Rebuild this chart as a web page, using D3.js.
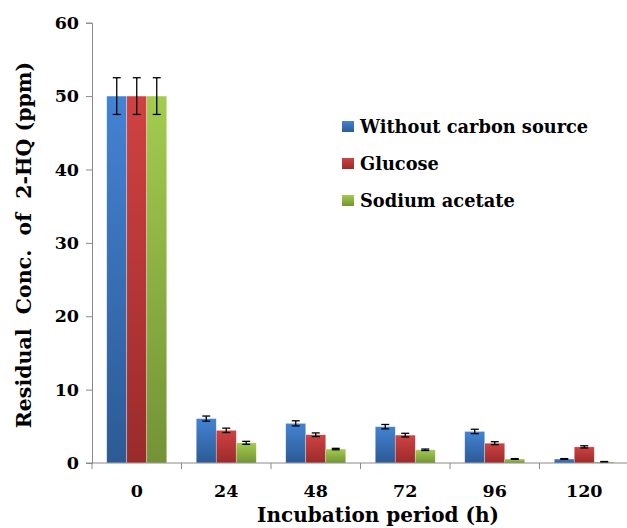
<!DOCTYPE html>
<html><head><meta charset="utf-8">
<script src="https://cdn.jsdelivr.net/npm/d3@7"></script>
<style>
body{margin:0;background:#fff;}
text{font-family:"DejaVu Serif",serif;font-weight:bold;fill:#000;}
</style></head>
<body><svg id="c" width="627" height="528"></svg>
<script>
const categories = ["0","24","48","72","96","120"];
const seriesNames = ["Without carbon source","Glucose","Sodium acetate"];
const withoutCarbon = [50.0, 6.05, 5.4, 4.95, 4.3, 0.55];
const glucose       = [50.0, 4.45, 3.85, 3.8, 2.7, 2.2];
const sodiumAcetate = [50.0, 2.75, 1.9, 1.8, 0.55, 0.15];
const errWithout = [2.5, 0.35, 0.35, 0.3, 0.3, 0.05];
const errGlucose = [2.5, 0.3, 0.25, 0.25, 0.2, 0.15];
const errSodium  = [2.5, 0.2, 0.1, 0.1, 0.05, 0.05];
const yTicks = [0,10,20,30,40,50,60];

const colors = [["#4383d4","#2c5a94"],["#d04242","#9a2b2b"],["#a3cc4e","#739336"]];
const series = [withoutCarbon, glucose, sodiumAcetate];
const errs = [errWithout, errGlucose, errSodium];

const svg = d3.select("#c");
const x0 = 92, x1 = 629, yTop = 22.7, yBot = 463;
const x = d3.scaleBand().domain(categories).range([x0, x1]).paddingInner(0).paddingOuter(0);
const y = d3.scaleLinear().domain([0,60]).range([yBot, yTop]);
const barW = 20;
const gOff = (x.bandwidth() - barW*3)/2;

const defs = svg.append("defs");
colors.forEach((c,i)=>{
  const g = defs.append("linearGradient").attr("id","g"+i).attr("x1",0).attr("y1",0).attr("x2",0).attr("y2",1);
  g.append("stop").attr("offset","0%").attr("stop-color",c[0]);
  g.append("stop").attr("offset","100%").attr("stop-color",c[1]);
});

// y axis
const yAxis = d3.axisLeft(y).tickValues(yTicks).tickSize(6).tickPadding(7);
const ya = svg.append("g").attr("transform",`translate(${x0},0)`).call(yAxis);
ya.select(".domain").attr("stroke","#8a8a8a");
ya.selectAll(".tick line").attr("stroke","#8a8a8a");
ya.selectAll(".tick text").style("font-size","17.5px").style("font-family","DejaVu Serif").style("font-weight","bold").attr("fill","#000");

// bars
series.forEach((vals,si)=>{
  svg.append("g").selectAll("rect").data(vals).join("rect")
    .attr("x",(d,i)=>x(categories[i])+gOff+si*barW)
    .attr("y",d=>y(d))
    .attr("width",barW)
    .attr("height",d=>yBot-y(d))
    .attr("fill","url(#g"+si+")")
    .attr("stroke","rgba(255,255,255,0.5)").attr("stroke-width",0.6);
});
// error bars
series.forEach((vals,si)=>{
  const g = svg.append("g").attr("stroke","#000").attr("stroke-width",1.3);
  vals.forEach((v,i)=>{
    const cx = x(categories[i])+gOff+si*barW+barW/2;
    const e = errs[si][i];
    g.append("line").attr("x1",cx).attr("x2",cx).attr("y1",y(v+e)).attr("y2",y(v-e));
    g.append("line").attr("x1",cx-4).attr("x2",cx+4).attr("y1",y(v+e)).attr("y2",y(v+e));
    g.append("line").attr("x1",cx-4).attr("x2",cx+4).attr("y1",y(v-e)).attr("y2",y(v-e));
  });
});

// x axis
const xa = svg.append("g").attr("transform",`translate(0,${yBot})`);
xa.append("line").attr("x1",x0-6).attr("x2",x1).attr("stroke","#8a8a8a");
const bounds = categories.map(c=>x(c)).concat([x1]);
xa.selectAll("line.t").data(bounds).join("line").attr("class","t")
  .attr("x1",d=>d).attr("x2",d=>d).attr("y1",0).attr("y2",6).attr("stroke","#8a8a8a");
xa.selectAll("text").data(categories).join("text")
  .attr("x",d=>x(d)+x.bandwidth()/2).attr("y",34)
  .attr("text-anchor","middle").style("font-size","17.5px").text(d=>d);

svg.append("text").attr("x",378).attr("y",522).attr("text-anchor","middle")
  .style("font-size","20px").text("Incubation period (h)");

svg.append("text").attr("transform","translate(31,245) rotate(-90)").attr("text-anchor","middle")
  .style("font-size","20.5px").style("white-space","pre").text("Residual  Conc.  of  2-HQ (ppm)");

// legend
const leg = svg.append("g");
const legY = [133, 170, 207];
seriesNames.forEach((n,i)=>{
  leg.append("rect").attr("x",342).attr("y",legY[i]-12).attr("width",12).attr("height",11).attr("fill","url(#g"+i+")");
  leg.append("text").attr("x",360).attr("y",legY[i]).style("font-size","17.8px").text(n);
});
</script></body></html>
